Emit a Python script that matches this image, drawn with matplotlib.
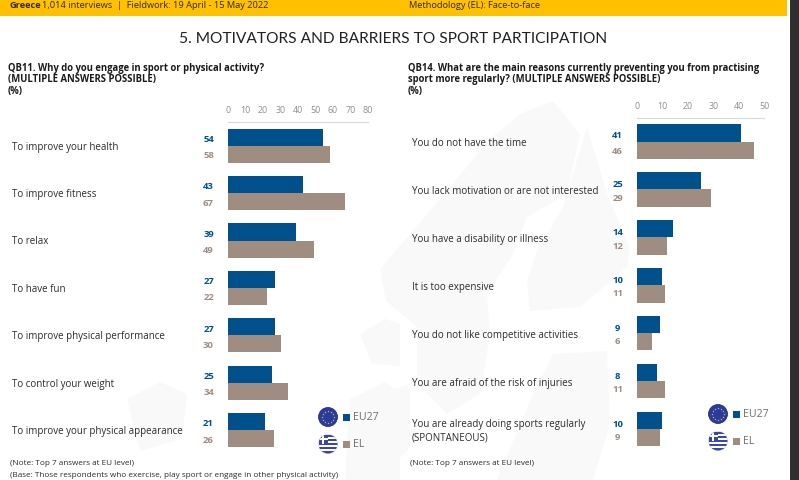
import numpy as np
import matplotlib
matplotlib.use('Agg')
import matplotlib.pyplot as plt
from matplotlib.patches import Circle, Rectangle, Polygon

W, H = 799, 481

# QB11
motivators = ['To improve your health', 'To improve fitness', 'To relax', 'To have fun',
              'To improve physical performance', 'To control your weight',
              'To improve your physical appearance']
motivators_eu = [54, 43, 39, 27, 27, 25, 21]
motivators_el = [58, 67, 49, 22, 30, 34, 26]

# QB14
barriers = ['You do not have the time', 'You lack motivation or are not interested',
            'You have a disability or illness', 'It is too expensive',
            'You do not like competitive activities', 'You are afraid of the risk of injuries',
            'You are already doing sports regularly\n(SPONTANEOUS)']
barriers_eu = [41, 25, 14, 10, 9, 8, 10]
barriers_el = [46, 29, 12, 11, 6, 11, 9]

BLUE = '#00508C'
TAUPE = '#A08D82'
GREY = '#8E8E8E'
TEXT = '#2B2B2B'

plt.rcParams['font.family'] = ['Open Sans', 'DejaVu Sans']

fig = plt.figure(figsize=(W / 100, H / 100), dpi=100, facecolor='white')

# background layer in pixel coordinates
bg = fig.add_axes([0, 0, 1, 1])
bg.set_xlim(0, W)
bg.set_ylim(H, 0)
bg.axis('off')

# faint map behind the charts
map_shapes = [
    # Norway and Sweden
    [(520, 115), (553, 102), (580, 135), (567, 195), (527, 218), (513, 255), (487, 295), (490, 335),
     (480, 395), (447, 415), (417, 385), (417, 328), (386, 302), (380, 270), (440, 200), (490, 140)],
    # Finland
    [(587, 128), (607, 195), (630, 248), (627, 268), (580, 308), (530, 312), (527, 282), (537, 252), (563, 208)],
    # Baltics and the land south of them
    [(553, 355), (607, 352), (610, 425), (593, 481), (497, 481), (533, 395)],
    # Denmark
    [(380, 395), (410, 385), (410, 448), (380, 481)],
    # left side
    [(127, 400), (160, 383), (187, 395), (182, 440), (140, 452)],
    [(350, 400), (385, 383), (400, 395), (400, 481), (345, 481)],
    [(360, 335), (385, 320), (400, 325), (400, 367), (372, 365)],
]
for shape in map_shapes:
    bg.add_patch(Polygon(shape, closed=True, fc='#F9F9F9', ec='none'))

# header band and the dark strip on the right
bg.add_patch(Rectangle((0, 0), 787, 17, fc='#FFC000', ec='none'))
bg.add_patch(Rectangle((790, 0), 9, H, fc='#2F2F2F', ec='none'))

bg.text(9, 6, 'Greece', fontsize=6.7, fontweight='bold', color=TEXT, va='center')
bg.text(42, 6, '1,014 interviews  |  Fieldwork: 19 April - 15 May 2022', fontsize=6.7, color=TEXT, va='center')
bg.text(409, 6, 'Methodology (EL): Face-to-face', fontsize=6.7, color=TEXT, va='center')

bg.text(393.5, 39, '5. MOTIVATORS AND BARRIERS TO SPORT PARTICIPATION', fontsize=11.2,
        family='Lato', color='#222222', ha='center', va='center')

for y, s in zip([68.5, 79.5, 91.5], ['QB11. Why do you engage in sport or physical activity?',
                                     '(MULTIPLE ANSWERS POSSIBLE)', '(%)']):
    bg.text(8, y, s, fontsize=6.85, fontweight='bold', color='#1A1A1A', va='center')
for y, s in zip([68.5, 79.5, 91.5], ['QB14. What are the main reasons currently preventing you from practising',
                                     'sport more regularly? (MULTIPLE ANSWERS POSSIBLE)', '(%)']):
    bg.text(408, y, s, fontsize=6.85, fontweight='bold', color='#1A1A1A', va='center')

bg.text(10.5, 464, '(Note: Top 7 answers at EU level)', fontsize=5.85, color=TEXT, va='center')
bg.text(10.5, 476, '(Base: Those respondents who exercise, play sport or engage in other physical activity)',
        fontsize=5.85, color=TEXT, va='center')
bg.text(410.5, 464, '(Note: Top 7 answers at EU level)', fontsize=5.85, color=TEXT, va='center')


def bar_panel(x0, x1, y0, y1, xmax, step, labels, eu, el, label_x, label_dy, value_x, gap_eu, gap_el):
    ax = fig.add_axes([x0 / W, 1 - y1 / H, (x1 - x0) / W, (y1 - y0) / H])
    ax.patch.set_alpha(0)
    pos = np.arange(len(labels))
    ax.barh(pos - 0.18, eu, height=0.36, color=BLUE)
    ax.barh(pos + 0.18, el, height=0.36, color=TAUPE)
    ax.set_xlim(0, xmax)
    ax.set_ylim(len(labels) - 0.5, -0.5)
    ax.set_yticks([])
    ax.set_xticks(np.arange(0, xmax + 1, step))
    ax.xaxis.tick_top()
    ax.tick_params(axis='x', length=0, pad=5.5, labelsize=6.4, labelcolor=GREY)
    for side in ['left', 'right', 'bottom']:
        ax.spines[side].set_visible(False)
    ax.spines['top'].set_color('#D9D9D9')
    ax.spines['top'].set_linewidth(0.8)
    trans = ax.get_yaxis_transform()
    for i, name in enumerate(labels):
        bg.text(label_x, y0 + (i + 0.5) * (y1 - y0) / len(labels) + label_dy, name, fontsize=7.0,
                color=TEXT, va='center', linespacing=1.25)
        ax.text(value_x, i - gap_eu[i], str(eu[i]), transform=trans, fontsize=6.8, fontweight='bold',
                color=BLUE, ha='center', va='center')
        ax.text(value_x, i + gap_el[i], str(el[i]), transform=trans, fontsize=6.8, fontweight='bold',
                color=TAUPE, ha='center', va='center')
    return ax


bar_panel(228, 368, 123, 454.8, 80, 10, motivators, motivators_eu, motivators_el, 12, 0.5,
          -0.139, [0.15] * 7, [0.19] * 7)
bar_panel(637, 764, 118.6, 454, 50, 10, barriers, barriers_eu, barriers_el, 412, 1.2,
          -0.152, [0.15] + [0.12] * 6, [0.19] + [0.16] * 6)


def legend_block(cx, sq_x, y_eu, y_el):
    # EU flag
    bg.add_patch(Circle((cx, y_eu), 9.5, fc='#2B3A9E', ec='#1B2470', lw=0.5))
    for a in np.arange(0, 2 * np.pi, np.pi / 6):
        bg.plot(cx + 6.3 * np.cos(a), y_eu + 6.3 * np.sin(a), marker='*', ms=1.6, color='#D8C84A', mew=0)
    # Greek flag
    flag = Circle((cx, y_el), 9.5, fc='white', ec='#C8C8D8', lw=0.4)
    bg.add_patch(flag)
    for k in range(0, 9, 2):
        stripe = Rectangle((cx - 9.5, y_el - 9.5 + k * 19 / 9), 19, 19 / 9, fc='#3C46A8', ec='none')
        bg.add_patch(stripe)
        stripe.set_clip_path(flag)
    canton = Rectangle((cx - 9.5, y_el - 9.5), 9.5, 9.5, fc='#3C46A8', ec='none')
    bg.add_patch(canton)
    canton.set_clip_path(flag)
    for r in [Rectangle((cx - 5.7, y_el - 9.5), 2, 9.5, fc='white', ec='none'),
              Rectangle((cx - 9.5, y_el - 5.7), 9.5, 2, fc='white', ec='none')]:
        bg.add_patch(r)
        r.set_clip_path(flag)
    bg.add_patch(Rectangle((sq_x, y_eu - 3.5), 7, 7, fc=BLUE, ec='none'))
    bg.add_patch(Rectangle((sq_x, y_el - 3.5), 7, 7, fc=TAUPE, ec='none'))
    bg.text(sq_x + 10, y_eu - 0.5, 'EU27', fontsize=7.6, color='#6E6E6E', va='center')
    bg.text(sq_x + 10, y_el - 0.5, 'EL', fontsize=7.6, color='#6E6E6E', va='center')


legend_block(328, 343, 418, 445)
legend_block(718, 733, 415, 442)

fig.savefig('out.png', dpi=100)
